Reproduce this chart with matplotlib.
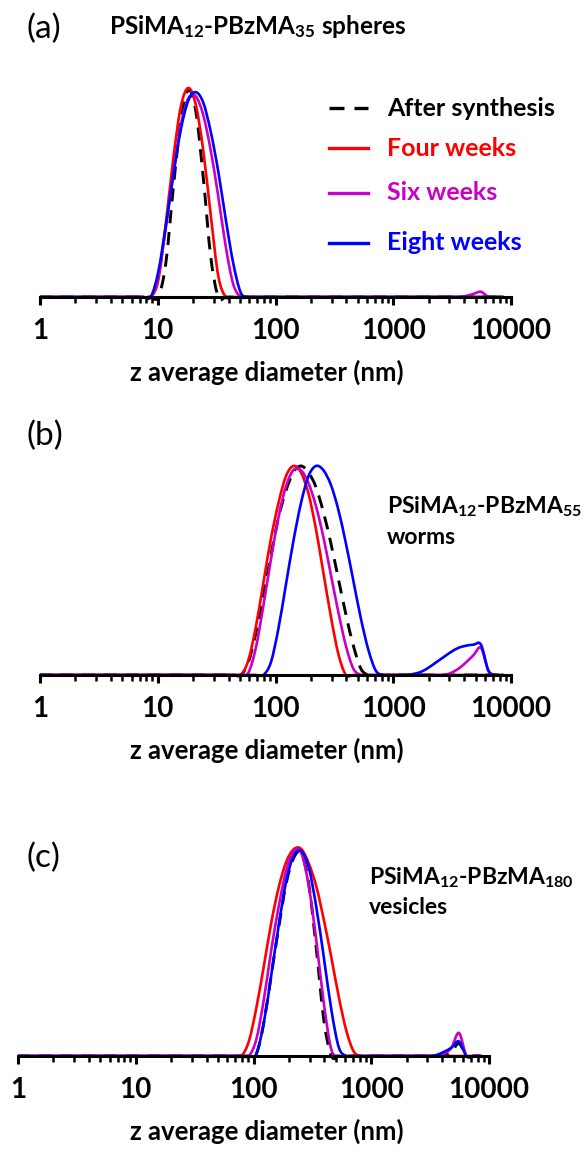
import numpy as np
import matplotlib.pyplot as plt
from matplotlib.lines import Line2D
from matplotlib.path import Path
from matplotlib.patches import PathPatch
from matplotlib.ticker import FixedLocator, LogLocator, NullFormatter

plt.rcParams['font.family'] = ['Lato', 'DejaVu Sans']
plt.rcParams['mathtext.fontset'] = 'custom'
plt.rcParams['mathtext.rm'] = 'Lato:bold'
plt.rcParams['mathtext.it'] = 'Lato:bold'
plt.rcParams['mathtext.bf'] = 'Lato:bold'

# Zetasizer size classes (nm)
size_nm = [0.965, 1.117, 1.294, 1.499, 1.736, 2.010, 2.328, 2.696, 3.122, 3.615,
           4.187, 4.849, 5.615, 6.503, 7.531, 8.721, 10.10, 11.70, 13.54, 15.69,
           18.17, 21.04, 24.36, 28.21, 32.67, 37.84, 43.82, 50.75, 58.77, 68.06,
           78.82, 91.28, 105.7, 122.4, 141.8, 164.2, 190.1, 220.2, 255.0, 295.3,
           342.0, 396.1, 458.7, 531.2, 615.1, 712.4, 825.0, 955.4, 1106, 1281,
           1484, 1718, 1990, 2305, 2669, 3091, 3580, 4145, 4801, 5560,
           6439, 7456, 8635]


def on_grid(*segments):
    """Place (first size class, intensities) runs onto the full size grid."""
    y = np.zeros(len(size_nm))
    for start, values in segments:
        i = size_nm.index(start)
        y[i:i + len(values)] = values
    return y


# (a) spheres - relative intensity
a_after = on_grid((10.10, [0, 16, 52, 84, 99, 89, 57, 19, 0]))
a_four = on_grid((8.721, [0, 8, 35, 66, 91, 100, 92, 70, 39, 10, 0]))
a_six = on_grid((8.721, [0, 10, 33, 59, 82, 95, 96, 87, 70, 48, 24, 6, 0]),
                (4145, [0.5, 1.5, 2.5, 0]))
a_eight = on_grid((8.721, [0, 12, 34, 58, 80, 94, 98, 93, 79, 60, 37, 16, 2, 0]))

# (b) worms
b_after = on_grid((43.82, [0, 0, 6, 20, 38, 57, 75, 88, 97, 100, 97, 90, 78, 63,
                           46, 29, 14, 3, 0]))
b_four = on_grid((43.82, [0, 0, 7, 23, 44, 65, 82, 95, 100, 97, 87, 70, 49, 28,
                          10, 0]))
b_six = on_grid((50.75, [0, 1, 13, 33, 55, 75, 90, 98, 98, 92, 81, 66, 48, 30,
                         14, 3, 0]),
                (2669, [0, 1, 3, 6, 9.5, 13, 2, 0]))
b_eight = on_grid((78.82, [0, 6, 22, 43, 64, 82, 95, 100, 98, 91, 79, 63, 45, 27,
                           12, 2, 0]),
                  (1281, [0, 0.5, 1.5, 3.5, 6, 8.5, 11, 13, 14, 14.5, 14.5, 2, 0]))

# (c) vesicles
c_after = on_grid((91.28, [0, 1, 16, 39, 62, 83, 95, 97, 82, 51, 17, 0]),
                  (4145, [0.5, 2, 6, 0]))
c_four = on_grid((68.06, [0, 0, 7, 23, 43, 64, 81, 93, 99, 99, 92, 81, 65, 47,
                          28, 12, 2, 0]))
c_six = on_grid((91.28, [0, 8, 27, 51, 72, 89, 98, 97, 81, 55, 25, 3, 0]),
                (4145, [1, 4, 11, 0]))
c_eight = on_grid((91.28, [0, 1, 16, 39, 63, 84, 96, 98, 90, 71, 47, 22, 4, 0]),
                  (3580, [0.5, 2, 4, 7, 0]))

series_labels = ['After synthesis', 'Four weeks', 'Six weeks', 'Eight weeks']
series_colors = ['black', '#FF0000', '#C800C8', '#0000FF']
tick_values = [1, 10, 100, 1000, 10000]
tick_labels = ['1', '10', '100', '1000', '10000']

W, H = 584, 1155
fig = plt.figure(figsize=(W / 100, H / 100), dpi=100)
DASH = (0, (4.5, 3))


def fx(px):
    return px / W


def fy(py):
    return 1 - py / H


def smoothed(x, y):
    """Spreadsheet-style smoothed line: cubic Bezier through every point,
    built in log10(x) so it bends evenly on the log axis."""
    u = np.log10(x)
    n = len(u)
    verts = [(x[0], y[0])]
    codes = [Path.MOVETO]
    for i in range(n - 1):
        p, q = max(i - 1, 0), min(i + 2, n - 1)
        c1u = u[i] + (u[i + 1] - u[p]) / 6
        c1y = y[i] + (y[i + 1] - y[p]) / 6
        c2u = u[i + 1] - (u[q] - u[i]) / 6
        c2y = y[i + 1] - (y[q] - y[i]) / 6
        verts += [(10 ** c1u, c1y), (10 ** c2u, c2y), (x[i + 1], y[i + 1])]
        codes += [Path.CURVE4] * 3
    return Path(verts, codes)


PX_PER_UNIT = 2.09


def panel(left, base, curves):
    ax = fig.add_axes([fx(left), fy(base + 10), 471 / W, 225 / H])
    ax.set_xscale('log')
    ax.set_xlim(1, 10000)
    ax.set_ylim(-10 / PX_PER_UNIT, 215 / PX_PER_UNIT)
    for side in ['left', 'top', 'right']:
        ax.spines[side].set_visible(False)
    ax.spines['bottom'].set_position(('data', 0))
    ax.spines['bottom'].set_linewidth(2.2)
    ax.set_yticks([])
    ax.xaxis.set_major_locator(FixedLocator(tick_values))
    ax.set_xticklabels(tick_labels)
    ax.xaxis.set_minor_locator(LogLocator(base=10, subs=range(2, 10)))
    ax.xaxis.set_minor_formatter(NullFormatter())
    ax.tick_params(axis='x', which='major', direction='out', length=6, width=2.2,
                   pad=9, labelsize=20)
    ax.tick_params(axis='x', which='minor', direction='out', length=4.5, width=1.8)
    for lab in ax.get_xticklabels():
        lab.set_fontweight('bold')

    for vals, color in zip(curves, series_colors):
        ls = DASH if color == 'black' else '-'
        lw = 2.1 if color == 'black' else 1.9
        ax.add_patch(PathPatch(smoothed(size_nm, vals), fill=False,
                               edgecolor=color, lw=lw, linestyle=ls))
    fig.text(fx(267), fy(base + 75), 'z average diameter (nm)', ha='center',
             va='center', fontsize=18.5, fontweight='bold')
    return ax


panel(40, 297, [a_after, a_four, a_six, a_eight])
panel(40, 675, [b_after, b_four, b_six, b_eight])
panel(18, 1056, [c_after, c_four, c_six, c_eight])

# panel letters and sample names
for letter, y in [('(a)', 29), ('(b)', 436), ('(c)', 858)]:
    fig.text(fx(26), fy(y), letter, fontsize=24, va='center')
fig.text(fx(109), fy(27), 'PSiMA$_{12}$-PBzMA$_{35}$ spheres', fontsize=17.5,
         fontweight='bold', va='center')
fig.text(fx(387), fy(507), 'PSiMA$_{12}$-PBzMA$_{55}$', fontsize=16.5,
         fontweight='bold', va='center')
fig.text(fx(387), fy(537), 'worms', fontsize=16.5, fontweight='bold', va='center')
fig.text(fx(369), fy(878), 'PSiMA$_{12}$-PBzMA$_{180}$', fontsize=16.5,
         fontweight='bold', va='center')
fig.text(fx(369), fy(908), 'vesicles', fontsize=16.5, fontweight='bold',
         va='center')

# legend
for y, label, color in zip([108, 148, 193, 243], series_labels, series_colors):
    ls = DASH if color == 'black' else '-'
    fig.add_artist(Line2D([fx(329), fx(368)], [fy(y), fy(y)], color=color,
                          lw=2.4, ls=ls))
    fig.text(fx(387), fy(y), label, color=color, fontsize=18, fontweight='bold',
             va='center')

fig.savefig('out.png', dpi=100)
